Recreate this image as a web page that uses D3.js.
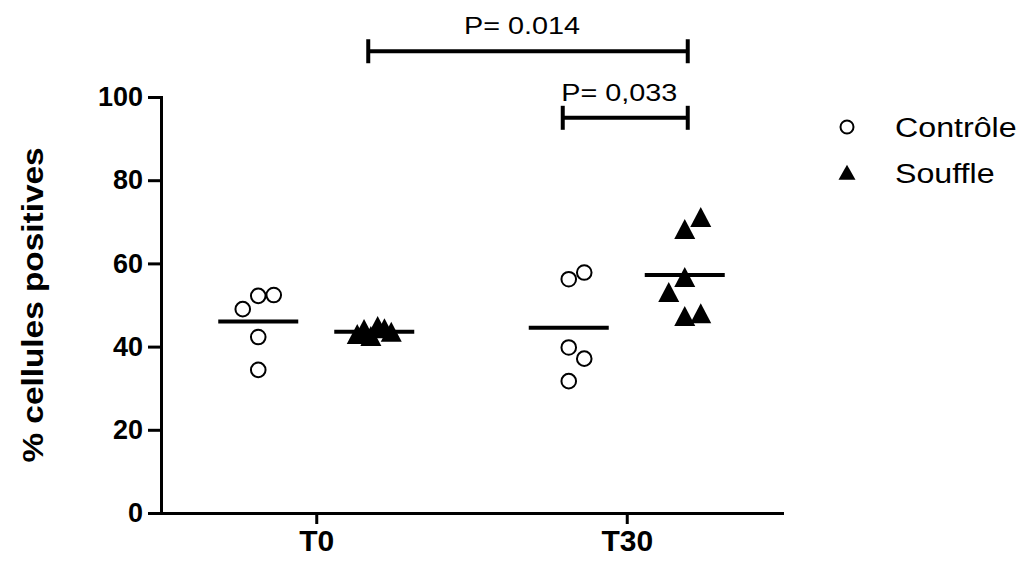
<!DOCTYPE html>
<html>
<head>
<meta charset="utf-8">
<script src="https://cdn.jsdelivr.net/npm/d3@7/dist/d3.min.js"></script>
<style>
    body { margin: 0; background: #fff; }
    svg { display: block; font-family: Arial, "Liberation Sans", sans-serif; }
</style>
</head>
<body>
<div id="chart"></div>
<script>
// Data
const timepoints = ['T0', 'T30'];
const groups = ['Contrôle', 'Souffle'];
const controleT0 = [52.2, 52.4, 49.0, 42.3, 34.4];
const souffleT0 = [42.3, 44.7, 44.0, 44.2, 42.8, 43.3];
const controleT30 = [56.2, 57.8, 39.8, 37.1, 31.7];
const souffleT30 = [68.0, 70.9, 47.1, 47.8, 56.5, 52.9];
const yTicks = [0, 20, 40, 60, 80, 100];
const comparisons = [
    { from: ['T0', 'Souffle'], to: ['T30', 'Souffle'], level: 111, label: 'P= 0.014' },
    { from: ['T30', 'Contrôle'], to: ['T30', 'Souffle'], level: 95, label: 'P= 0,033' }
];

const series = [
    { time: 'T0', group: 'Contrôle', values: controleT0 },
    { time: 'T0', group: 'Souffle', values: souffleT0 },
    { time: 'T30', group: 'Contrôle', values: controleT30 },
    { time: 'T30', group: 'Souffle', values: souffleT30 }
];

const width = 1027;
const height = 562;
const plot = { left: 161, right: 782, top: 97, bottom: 513 };

const svg = d3.select('#chart')
    .append('svg')
    .attr('width', width)
    .attr('height', height);

// Scales
const x = d3.scalePoint()
    .domain(timepoints)
    .range([plot.left, plot.right])
    .padding(0.5);

const xGroup = d3.scalePoint()
    .domain(groups)
    .range([-58, 58]);

const y = d3.scaleLinear()
    .domain([0, 100])
    .range([plot.bottom, plot.top]);

const groupX = (time, group) => x(time) + xGroup(group);

// Symbols
const triangle = (w, h) => `M0,${-h * 0.55}L${w / 2},${h * 0.45}L${-w / 2},${h * 0.45}Z`;

const symbolStyle = {
    'Contrôle': { gap: 17, step: 15.5 },
    'Souffle': { gap: 22, step: 16 }
};

// The original font runs a little wider than Arial
const stretch = 1.15;

// Spread overlapping points sideways, like a column scatter
function dodge(values, gap, step, maxSpread) {
    const lanes = [0, 1, -1, 2, -2, 3, -3, 4, -4];
    const placed = [];
    values.forEach(v => {
        const py = y(v);
        let k = 0;
        while (placed.some(p => p.lane === lanes[k] && Math.abs(p.py - py) < gap)) k++;
        placed.push({ value: v, py, lane: lanes[k] });
    });
    let offsets = placed.map(p => p.lane * step);
    const lo = d3.min(offsets);
    const hi = d3.max(offsets);
    if (hi - lo > maxSpread) {
        const f = maxSpread / (hi - lo);
        const mid = (hi + lo) / 2;
        offsets = offsets.map(o => (o - mid) * f);
    }
    return placed.map((p, i) => ({ value: p.value, py: p.py, dx: offsets[i] }));
}

// Axes
const yAxis = svg.append('g')
    .attr('transform', `translate(${plot.left},0)`)
    .call(d3.axisLeft(y).tickValues(yTicks).tickSize(13).tickSizeOuter(0).tickPadding(5));

const xAxis = svg.append('g')
    .attr('transform', `translate(0,${plot.bottom})`)
    .call(d3.axisBottom(x).tickSize(11).tickSizeOuter(0).tickPadding(6));

[yAxis, xAxis].forEach(axis => {
    axis.select('.domain')
        .attr('stroke', '#000')
        .attr('stroke-width', 3)
        .attr('stroke-linecap', 'square');
    axis.selectAll('.tick line')
        .attr('stroke', '#000')
        .attr('stroke-width', 3);
    axis.selectAll('.tick text')
        .attr('fill', '#000')
        .style('font-family', 'Arial, "Liberation Sans", sans-serif')
        .style('font-weight', 'bold');
});

yAxis.selectAll('.tick text').style('font-size', '27px');
xAxis.selectAll('.tick text').style('font-size', '30px');

// Y axis title
svg.append('text')
    .attr('transform', `translate(43,${(plot.top + plot.bottom) / 2}) rotate(-90) scale(${stretch},1)`)
    .attr('text-anchor', 'middle')
    .style('font-size', '29px')
    .style('font-weight', 'bold')
    .text('% cellules positives');

// Points and mean lines
series.forEach(s => {
    const cx = groupX(s.time, s.group);
    const st = symbolStyle[s.group];
    const pts = dodge(s.values, st.gap, st.step, 34);
    const g = svg.append('g');

    if (s.group === 'Contrôle') {
        g.selectAll('circle')
            .data(pts)
            .enter()
            .append('circle')
            .attr('cx', d => cx + d.dx)
            .attr('cy', d => d.py)
            .attr('r', 7.3)
            .attr('fill', '#fff')
            .attr('stroke', '#000')
            .attr('stroke-width', 2);
    } else {
        g.selectAll('path')
            .data(pts)
            .enter()
            .append('path')
            .attr('d', triangle(21, 20))
            .attr('transform', d => `translate(${cx + d.dx},${d.py})`)
            .attr('fill', '#000');
    }

    const mean = d3.mean(s.values);
    g.append('line')
        .attr('x1', cx - 40)
        .attr('x2', cx + 40)
        .attr('y1', y(mean))
        .attr('y2', y(mean))
        .attr('stroke', '#000')
        .attr('stroke-width', 4);
});

// Significance brackets
comparisons.forEach(c => {
    const x1 = groupX(c.from[0], c.from[1]) - 6;
    const x2 = groupX(c.to[0], c.to[1]) + 3;
    const yy = y(c.level);
    const g = svg.append('g')
        .attr('stroke', '#000')
        .attr('stroke-width', 4);
    g.append('line').attr('x1', x1).attr('x2', x2).attr('y1', yy).attr('y2', yy);
    g.append('line').attr('x1', x1).attr('x2', x1).attr('y1', yy - 12).attr('y2', yy + 12);
    g.append('line').attr('x1', x2).attr('x2', x2).attr('y1', yy - 12).attr('y2', yy + 12);

    svg.append('text')
        .attr('transform', `translate(${(x1 + x2) / 2 - 6},${yy - 17}) scale(${stretch + 0.05},1)`)
        .attr('text-anchor', 'middle')
        .style('font-size', '24px')
        .text(c.label);
});

// Legend
const legend = svg.append('g')
    .attr('transform', 'translate(847,127)');

groups.forEach((grp, i) => {
    const item = legend.append('g')
        .attr('transform', `translate(0,${i * 46})`);
    if (grp === 'Contrôle') {
        item.append('circle')
            .attr('r', 6.5)
            .attr('fill', '#fff')
            .attr('stroke', '#000')
            .attr('stroke-width', 2);
    } else {
        item.append('path')
            .attr('d', triangle(17, 15))
            .attr('fill', '#000');
    }
    item.append('text')
        .attr('transform', `translate(48,0) scale(${stretch},1)`)
        .attr('dy', '0.35em')
        .style('font-size', '28px')
        .text(grp);
});
</script>
</body>
</html>
